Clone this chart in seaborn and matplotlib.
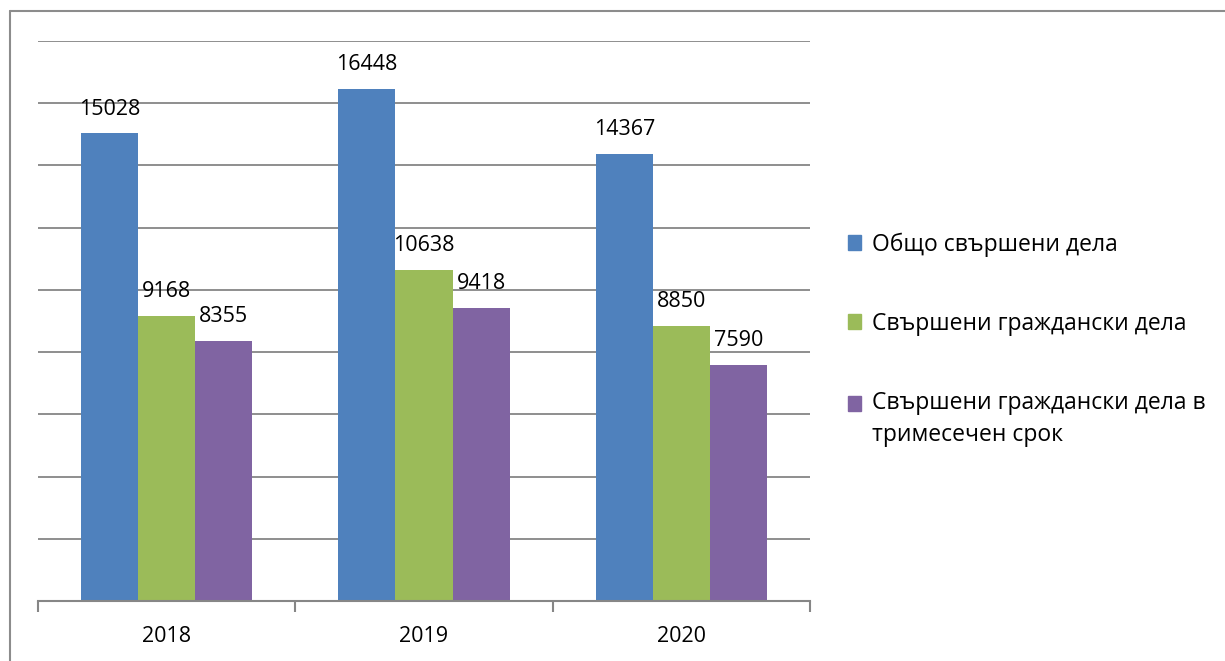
import pandas as pd
import seaborn as sns
import matplotlib.pyplot as plt
from matplotlib.lines import Line2D
from matplotlib.legend_handler import HandlerPatch

years = ["2018", "2019", "2020"]
series = ["Общо свършени дела",
          "Свършени граждански дела",
          "Свършени граждански дела в\nтримесечен срок"]
total = [15028, 16448, 14367]
civil = [9168, 10638, 8850]
civil_3m = [8355, 9418, 7590]
colors = ["#4F81BD", "#9BBB59", "#8064A2"]

df = pd.DataFrame({
    "year": years * 3,
    "series": [s for s in series for _ in years],
    "value": total + civil + civil_3m,
})

sns.set_style("white")
plt.rcParams["font.family"] = ["Open Sans", "DejaVu Sans"]
plt.rcParams["text.color"] = "black"
plt.rcParams["xtick.color"] = "#868686"
plt.rcParams["xtick.labelcolor"] = "black"

fig = plt.figure(figsize=(12.25, 6.61), dpi=100)
ax = fig.add_axes([38 / 1225, 60 / 661, 772 / 1225, 560 / 661])

sns.barplot(data=df, x="year", y="value", hue="series", palette=colors,
            width=0.665, saturation=1, linewidth=0, ax=ax, legend=True)

ax.set_ylim(0, 18000)
ax.set_xlim(-0.5, 2.5)
ax.set_yticks(range(0, 18001, 2000))
ax.set_yticklabels([])
ax.tick_params(axis="y", length=0)
ax.grid(axis="y", color="#868686", linewidth=1.3)
ax.set_axisbelow(True)
for s in ["left", "right", "top"]:
    ax.spines[s].set_visible(False)
ax.spines["bottom"].set_color("#868686")
ax.spines["bottom"].set_linewidth(1.5)

# category labels between boundary ticks
ax.set_xticks([-0.5, 0.5, 1.5, 2.5], minor=False)
ax.set_xticklabels([])
ax.tick_params(axis="x", which="major", bottom=True, length=8, width=1.5,
               color="#868686", direction="out")
ax.set_xticks([0, 1, 2], minor=True)
ax.set_xticklabels(years, minor=True, fontsize=15.5, color="black")
ax.tick_params(axis="x", which="minor", bottom=True, length=0, pad=18)
ax.set_xlabel("")
ax.set_ylabel("")

for cont in ax.containers:
    ax.bar_label(cont, fmt="%d", padding=10, fontsize=15.5, color="black")


# square marker aligned with first line of a two-line label
def top_square(legend, orig_handle, xdescent, ydescent, width, height, fontsize):
    return plt.Rectangle((-xdescent, -ydescent + 11.5), width, height)


handles = [plt.Rectangle((0, 0), 1, 1, color=c) for c in colors]
leg = ax.legend(handles, series, loc="center left", bbox_to_anchor=(1.022, 0.467),
                frameon=False, fontsize=16.5, handlelength=0.6, handleheight=0.6,
                handletextpad=0.45, labelspacing=2.4,
                handler_map={handles[2]: HandlerPatch(patch_func=top_square)})
for t in leg.get_texts():
    t.set_linespacing(1.45)
    t.set_color("black")

# outer chart border (top and left only visible)
fig.add_artist(Line2D([10 / 1225, 1.0], [1 - 11 / 661, 1 - 11 / 661], color="#8c8c8c", linewidth=1.5))
fig.add_artist(Line2D([10 / 1225, 10 / 1225], [0, 1 - 11 / 661], color="#8c8c8c", linewidth=1.5))

fig.savefig("out.png", dpi=100)
